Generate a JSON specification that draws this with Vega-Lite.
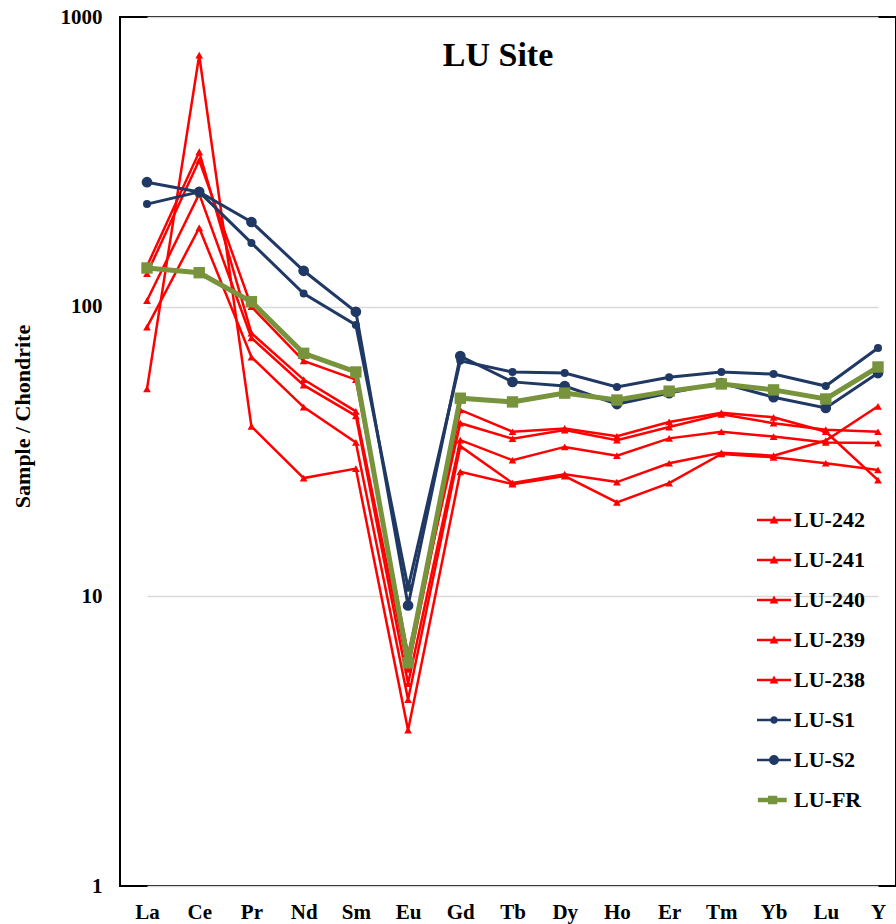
{
  "$schema": "https://vega.github.io/schema/vega-lite/v6.json",
  "width": 776,
  "height": 869,
  "autosize": {"type": "none"},
  "padding": {"left": 120, "top": 17, "right": 0, "bottom": 38},
  "background": "white",
  "config": {"view": {"stroke": "black", "strokeWidth": 2}, "font": "Liberation Serif"},
  "title": {"text": "LU Site", "font": "Liberation Serif", "fontSize": 34, "fontWeight": "bold", "color": "black", "anchor": "middle", "frame": "group", "dx": -10, "offset": -49, "dy": 45, "baseline": "alphabetic"},
  "data": {
    "values": [
      {"el": "La", "LU-242": 138, "LU-241": 130, "LU-240": 105, "LU-239": 85, "LU-238": 52, "LU-S1": 226, "LU-S2": 269, "LU-FR": 136},
      {"el": "Ce", "LU-242": 342, "LU-241": 320, "LU-240": 245, "LU-239": 187, "LU-238": 738, "LU-S1": 249, "LU-S2": 249, "LU-FR": 131},
      {"el": "Pr", "LU-242": 81, "LU-241": 100, "LU-240": 78, "LU-239": 67, "LU-238": 38.6, "LU-S1": 166, "LU-S2": 196, "LU-FR": 104},
      {"el": "Nd", "LU-242": 56, "LU-241": 65, "LU-240": 53.6, "LU-239": 45, "LU-238": 25.6, "LU-S1": 111, "LU-S2": 133, "LU-FR": 69},
      {"el": "Sm", "LU-242": 43.5, "LU-241": 56, "LU-240": 42, "LU-239": 34, "LU-238": 27.6, "LU-S1": 86.5, "LU-S2": 96, "LU-FR": 59.5},
      {"el": "Eu", "LU-242": 5.6, "LU-241": 6.3, "LU-240": 5.0, "LU-239": 4.4, "LU-238": 3.45, "LU-S1": 10.7, "LU-S2": 9.3, "LU-FR": 5.9},
      {"el": "Gd", "LU-242": 44, "LU-241": 39.6, "LU-240": 34.6, "LU-239": 33, "LU-238": 26.9, "LU-S1": 65, "LU-S2": 67.5, "LU-FR": 48.3},
      {"el": "Tb", "LU-242": 37, "LU-241": 35, "LU-240": 29.5, "LU-239": 24.6, "LU-238": 24.4, "LU-S1": 59.5, "LU-S2": 55, "LU-FR": 46.9},
      {"el": "Dy", "LU-242": 38, "LU-241": 37.5, "LU-240": 32.8, "LU-239": 26.4, "LU-238": 26, "LU-S1": 59, "LU-S2": 53.2, "LU-FR": 50.3},
      {"el": "Ho", "LU-242": 35.7, "LU-241": 34.6, "LU-240": 30.6, "LU-239": 24.8, "LU-238": 21.1, "LU-S1": 52.8, "LU-S2": 46.1, "LU-FR": 47.6},
      {"el": "Er", "LU-242": 40, "LU-241": 38.4, "LU-240": 35.1, "LU-239": 28.8, "LU-238": 24.6, "LU-S1": 57.1, "LU-S2": 50.3, "LU-FR": 51.1},
      {"el": "Tm", "LU-242": 43, "LU-241": 42.5, "LU-240": 37, "LU-239": 31.3, "LU-238": 31, "LU-S1": 59.5, "LU-S2": 54.5, "LU-FR": 54.1},
      {"el": "Yb", "LU-242": 41.5, "LU-241": 39.6, "LU-240": 35.6, "LU-239": 30.6, "LU-238": 30.2, "LU-S1": 58.5, "LU-S2": 48.7, "LU-FR": 51.6},
      {"el": "Lu", "LU-242": 37, "LU-241": 37.6, "LU-240": 34, "LU-239": 34.5, "LU-238": 28.8, "LU-S1": 53.2, "LU-S2": 44.7, "LU-FR": 48},
      {"el": "Y", "LU-242": 25.2, "LU-241": 37, "LU-240": 33.8, "LU-239": 45.3, "LU-238": 27.3, "LU-S1": 72, "LU-S2": 59, "LU-FR": 61.9}
    ]
  },
  "transform": [
    {"fold": ["LU-242", "LU-241", "LU-240", "LU-239", "LU-238", "LU-S1", "LU-S2", "LU-FR"], "as": ["sample", "value"]}
  ],
  "encoding": {
    "x": {
      "field": "el", "type": "nominal",
      "scale": {"type": "point", "domain": ["La", "Ce", "Pr", "Nd", "Sm", "Eu", "Gd", "Tb", "Dy", "Ho", "Er", "Tm", "Yb", "Lu", "Y"], "range": [27, 758], "padding": 0},
      "axis": {"title": null, "labelAngle": 0, "labelFont": "Liberation Serif", "labelFontSize": 21, "labelFontWeight": "bold", "labelColor": "black", "ticks": false, "domain": false, "grid": false, "labelPadding": 15}
    },
    "y": {
      "field": "value", "type": "quantitative",
      "scale": {"type": "log", "domain": [1, 1000], "nice": false},
      "axis": {"title": "Sample / Chondrite", "titleFont": "Liberation Serif", "titleFontSize": 22, "titleFontWeight": "bold", "titleColor": "black", "titleX": -98, "titleY": 399, "titleAngle": -90, "titleAlign": "center", "titleBaseline": "middle", "values": [1, 10, 100, 1000], "format": "d", "labelFont": "Liberation Serif", "labelFontSize": 21, "labelFontWeight": "bold", "labelColor": "black", "labelBaseline": "middle", "ticks": false, "domain": false, "labelPadding": 18, "grid": true, "gridColor": "#d9d9d9", "gridWidth": 1.5, "labelOverlap": false}
    },
    "color": {
      "field": "sample", "type": "nominal",
      "scale": {"domain": ["LU-242", "LU-241", "LU-240", "LU-239", "LU-238", "LU-S1", "LU-S2", "LU-FR"], "range": ["#ff0000", "#ff0000", "#ff0000", "#ff0000", "#ff0000", "#1f3864", "#1f3864", "#77933c"]},
      "legend": {
        "orient": "none", "legendX": 637, "legendY": 486, "title": null, "padding": 0,
        "labelFont": "Liberation Serif", "labelFontSize": 22, "labelFontWeight": "bold", "labelColor": "black", "labelLimit": 300,
        "symbolSize": 1156, "rowPadding": 12, "labelOffset": 3,
        "encode": {"symbols": {"update": {
          "shape": {"signal": "datum.value == 'LU-FR' ? 'M-0.95,-0.13H0.75V0.13H-0.95Z M-0.35,-0.25H0.19V0.25H-0.35Z' : datum.value == 'LU-S2' ? 'M-1,-0.08H1V0.08H-1Z M-0.29,0A0.29,0.29 0 1,1 0.29,0A0.29,0.29 0 1,1 -0.29,0Z' : datum.value == 'LU-S1' ? 'M-1,-0.08H1V0.08H-1Z M-0.22,0A0.22,0.22 0 1,1 0.22,0A0.22,0.22 0 1,1 -0.22,0Z' : 'M-1,-0.08H1V0.08H-1Z M-0.26,0.2L0,-0.26L0.26,0.2Z'"},
          "fill": {"signal": "scale('color', datum.value)"},
          "stroke": {"value": "transparent"},
          "strokeWidth": {"value": 0},
          "opacity": {"value": 1}
        }}}
      }
    }
  },
  "layer": [
    {
      "transform": [{"filter": {"field": "sample", "oneOf": ["LU-242", "LU-241", "LU-240", "LU-239", "LU-238"]}}],
      "mark": {"type": "line", "strokeWidth": 2.5},
      "encoding": {"order": {"value": null}}
    },
    {
      "transform": [{"filter": {"field": "sample", "oneOf": ["LU-242", "LU-241", "LU-240", "LU-239", "LU-238"]}}],
      "mark": {"type": "point", "shape": "triangle-up", "filled": true, "size": 60, "opacity": 1}
    },
    {
      "transform": [{"filter": {"field": "sample", "oneOf": ["LU-S1", "LU-S2"]}}],
      "mark": {"type": "line", "strokeWidth": 3},
      "encoding": {"order": {"value": null}}
    },
    {
      "transform": [{"filter": {"field": "sample", "equal": "LU-S1"}}],
      "mark": {"type": "point", "shape": "circle", "filled": true, "size": 64, "opacity": 1}
    },
    {
      "transform": [{"filter": {"field": "sample", "equal": "LU-S2"}}],
      "mark": {"type": "point", "shape": "circle", "filled": true, "size": 115, "opacity": 1}
    },
    {
      "transform": [{"filter": {"field": "sample", "equal": "LU-FR"}}],
      "mark": {"type": "line", "strokeWidth": 5},
      "encoding": {"order": {"value": null}}
    },
    {
      "transform": [{"filter": {"field": "sample", "equal": "LU-FR"}}],
      "mark": {"type": "point", "shape": "square", "filled": true, "size": 130, "opacity": 1}
    }
  ]
}
